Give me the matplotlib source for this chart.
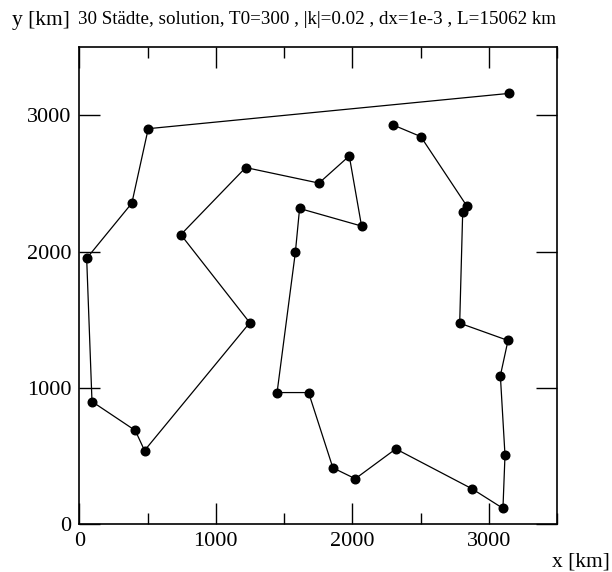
import matplotlib
matplotlib.use("Agg")
import matplotlib.pyplot as plt
from matplotlib.ticker import MultipleLocator

# Tour order (km)
x_km = [3151, 505, 385, 54, 93, 410, 478, 1249, 744, 1219, 1756, 1978, 2068, 1614, 1583,
        1449, 1680, 1858, 2022, 2319, 2878, 3104, 3119, 3085, 3141, 2787, 2809, 2838, 2502, 2300]
y_km = [3160, 2901, 2355, 1950, 900, 688, 541, 1478, 2124, 2616, 2502, 2701, 2187, 2316, 1994,
        966, 966, 414, 334, 553, 260, 117, 507, 1090, 1348, 1475, 2287, 2336, 2843, 2928]
x_ticks = [0, 1000, 2000, 3000]
y_ticks = [0, 1000, 2000, 3000]
title_text = "30 Städte, solution, T0=300 , |k|=0.02 , dx=1e-3 , L=15062 km"

plt.rcParams['font.family'] = ['Liberation Serif', 'DejaVu Serif']

fig = plt.figure(figsize=(6.12, 5.72), dpi=100)
ax = fig.add_axes([79.3/612, 47.7/572, (557-79.3)/612, (525-47.7)/572])
ax.plot(x_km, y_km, '-', color='black', lw=0.9, marker='o', ms=6.2,
        markerfacecolor='black', markeredgecolor='black')
ax.set_xlim(0, 3500)
ax.set_ylim(0, 3500)
ax.set_xticks(x_ticks)
ax.set_yticks(y_ticks)
ax.xaxis.set_minor_locator(MultipleLocator(500))
ax.tick_params(which='both', direction='in', top=True, right=True, labelsize=16, width=1.0)
ax.tick_params(which='major', length=15)
ax.tick_params(which='minor', length=8)
ax.tick_params(axis='x', pad=5.5)
ax.tick_params(axis='y', pad=5.5)
for s in ax.spines.values():
    s.set_linewidth(1.2)

fig.text(12/612, 1-20/572, "y [km]", fontsize=15.5, va='center', ha='left')
fig.text(78/612, 1-20/572, title_text, fontsize=13.7, va='center', ha='left')
fig.text(552/612, 1-562/572, "x [km]", fontsize=15.5, va='center', ha='left')

fig.savefig("out.png", dpi=100)
